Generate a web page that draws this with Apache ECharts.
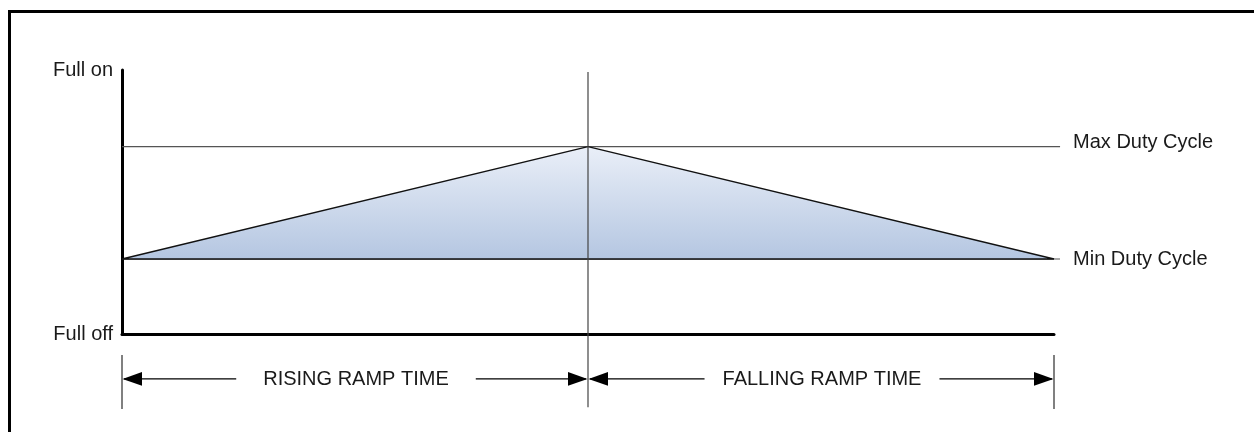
<!DOCTYPE html>
<html><head><meta charset="utf-8">
<script src="https://cdn.jsdelivr.net/npm/echarts@6/dist/echarts.min.js"></script>
<style>html,body{margin:0;padding:0;background:#fff}#c{width:1254px;height:432px}</style>
</head><body><div id="c"></div>
<script>
// ---- data ----
const rampTimes = [0, 1, 2];
const dutyValues = [28.4, 71, 28.4];
const levelNames = ['Max Duty Cycle', 'Min Duty Cycle'];
const levelValues = [71, 28.4];
const levelLineEnd = 2.013;
const yTickValues = [0, 100];
const yTickLabels = ['Full off', 'Full on'];
const phaseNames = ['RISING RAMP TIME', 'FALLING RAMP TIME'];
const phaseStart = [0, 1];
const phaseEnd = [1, 2];
const dimensionRow = -17;
const peakMarkerRange = [99.2, -27.7];
const edgeMarkerRange = [-8, -28.4];

const FONT = '20px "Liberation Sans", Arial, sans-serif';
const TEXT = '#1a1a1a';
const levelTextShift = [-4, 0];
const phasePad = [27, 18];

const chart = echarts.init(document.getElementById('c'), null, {renderer: 'canvas'});
chart.setOption({
  animation: false,
  backgroundColor: '#fff',
  grid: {left: 122, right: 200, top: 70, bottom: 98, containLabel: false, outerBoundsMode: 'none'},
  xAxis: {
    type: 'value', min: rampTimes[0], max: rampTimes[rampTimes.length - 1],
    axisLine: {show: true, onZero: false, lineStyle: {color: '#000', width: 3}},
    axisTick: {show: false}, axisLabel: {show: false}, splitLine: {show: false}
  },
  yAxis: {
    type: 'value', min: yTickValues[0], max: yTickValues[1], interval: yTickValues[1] - yTickValues[0],
    axisLine: {show: true, onZero: false, lineStyle: {color: '#000', width: 3}},
    axisTick: {show: false}, splitLine: {show: false},
    axisLabel: {
      show: true, margin: 9, color: TEXT, fontSize: 20, fontFamily: '"Liberation Sans", Arial, sans-serif',
      formatter: v => yTickLabels[yTickValues.indexOf(v)] || ''
    }
  },
  graphic: [{
    type: 'polyline', silent: true, z: 100,
    shape: {points: [[9.5, 432], [9.5, 11.5], [1254, 11.5]]},
    style: {stroke: '#000', lineWidth: 3, fill: null}
  }],
  series: [
    {
      type: 'custom', name: 'levels', clip: false, z: 1,
      data: levelValues.map((v, i) => [i, v]),
      renderItem: (p, api) => {
        const i = p.dataIndex;
        const v = api.value(1);
        const a = api.coord([rampTimes[0], v]);
        const b = api.coord([levelLineEnd, v]);
        return {type: 'group', children: [
          {type: 'line', shape: {x1: a[0], y1: a[1], x2: b[0], y2: b[1]}, style: {stroke: '#555', lineWidth: 1.2}},
          {type: 'text', x: b[0] + 13, y: b[1] + levelTextShift[i], style: {text: levelNames[i], font: FONT, fill: TEXT, align: 'left', verticalAlign: 'middle'}}
        ]};
      }
    },
    {
      type: 'custom', name: 'duty', clip: false, z: 2,
      data: [[rampTimes[1], dutyValues[1]]],
      renderItem: (p, api) => {
        const pts = rampTimes.map((t, i) => api.coord([t, dutyValues[i]]));
        return {type: 'polygon', shape: {points: pts}, style: {
          fill: new echarts.graphic.LinearGradient(0, 0, 0, 1, [
            {offset: 0, color: '#eaeff8'}, {offset: 1, color: '#b4c6e1'}]),
          stroke: '#111', lineWidth: 1.4, lineJoin: 'bevel'
        }};
      }
    },
    {
      type: 'custom', name: 'markers', clip: false, z: 3,
      data: rampTimes.map((t, i) => [t, i]),
      renderItem: (p, api) => {
        const t = api.value(0);
        const isPeak = p.dataIndex === 1;
        const r = isPeak ? peakMarkerRange : edgeMarkerRange;
        const a = api.coord([t, r[0]]);
        const b = api.coord([t, r[1]]);
        return {type: 'line', shape: {x1: a[0], y1: a[1], x2: b[0], y2: b[1]},
          style: {stroke: isPeak ? '#444' : '#808080', lineWidth: isPeak ? 1.2 : 2}};
      }
    },
    {
      type: 'custom', name: 'phases', clip: false, z: 4,
      data: phaseStart.map((s, i) => [s, phaseEnd[i]]),
      renderItem: (p, api) => {
        const i = p.dataIndex;
        const a = api.coord([api.value(0), dimensionRow]);
        const b = api.coord([api.value(1), dimensionRow]);
        const L = 20, H = 6.8, y = a[1];
        return {type: 'group', children: [
          {type: 'line', shape: {x1: a[0] + 2, y1: y, x2: b[0] - 2, y2: y}, style: {stroke: '#000', lineWidth: 1.2}},
          {type: 'polygon', shape: {points: [[a[0] + 0.5, y], [a[0] + L, y - H], [a[0] + L, y + H]]}, style: {fill: '#000'}},
          {type: 'polygon', shape: {points: [[b[0] - 0.5, y], [b[0] - L, y - H], [b[0] - L, y + H]]}, style: {fill: '#000'}},
          {type: 'text', x: (a[0] + b[0]) / 2 + 1, y: y + 1, style: {
            text: phaseNames[i], font: FONT, fill: TEXT, align: 'center', verticalAlign: 'middle',
            backgroundColor: '#fff', padding: [2, phasePad[i]]}}
        ]};
      }
    }
  ]
});
</script>
</body></html>
